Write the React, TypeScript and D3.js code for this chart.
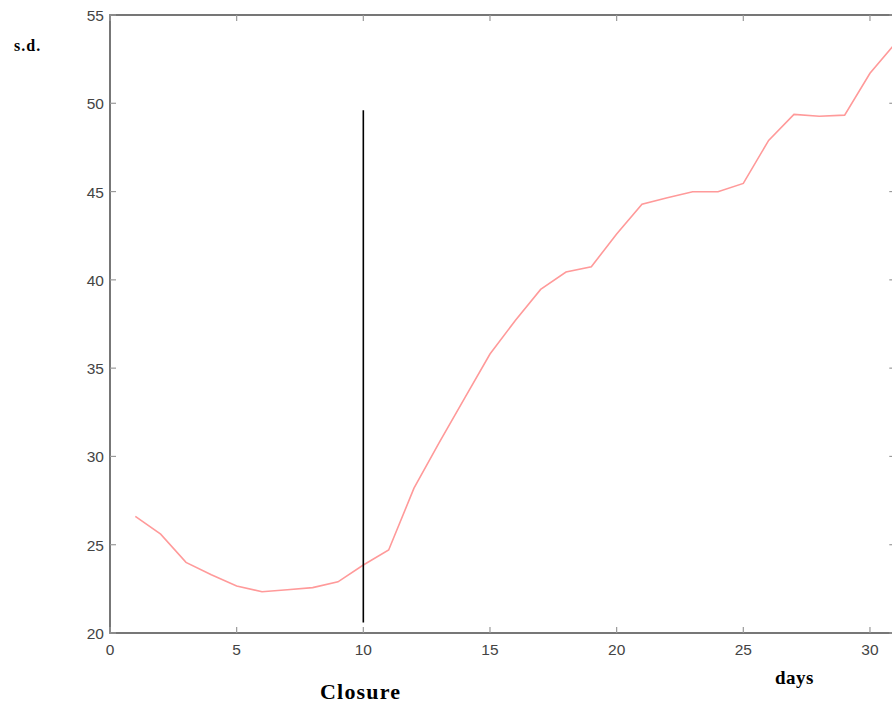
import React from "react";
import * as d3 from "d3";

const days = [1,2,3,4,5,6,7,8,9,10,11,12,13,14,15,16,17,18,19,20,21,22,23,24,25,26,27,28,29,30,31];
const sdValues = [26.6,25.6,24.0,23.3,22.66,22.34,22.45,22.57,22.9,23.85,24.7,28.2,30.8,33.3,35.8,37.7,39.46,40.44,40.74,42.6,44.29,44.65,44.99,44.99,45.46,47.9,49.37,49.27,49.33,51.7,53.4];
const xTicks = [0,5,10,15,20,25,30];
const yTicks = [20,25,30,35,40,45,50,55];
const closureDay = 10;
const closureRange = [20.6, 49.6];

export default function App() {
  const W = 892, H = 710;
  const x = d3.scaleLinear().domain([0, 31]).range([110, 895.3]);
  const y = d3.scaleLinear().domain([20, 55]).range([633, 15]);
  const line = d3.line<number>().x((_, i) => x(days[i])).y((d) => y(d));
  const axisColor = "#555";
  const tickLen = 6;
  const font = "'Liberation Sans', Arial, sans-serif";
  const serif = "'Liberation Serif', 'Times New Roman', serif";
  return (
    <svg width={W} height={H} style={{ position: "absolute", left: 0, top: 0, background: "#fff" }}>
      <defs>
        <clipPath id="plot">
          <rect x={x(0)} y={y(55)} width={x(31) - x(0)} height={y(20) - y(55)} />
        </clipPath>
      </defs>
      {/* frame */}
      <rect x={x(0)} y={y(55)} width={x(31) - x(0)} height={y(20) - y(55)} fill="none" stroke={axisColor} strokeWidth={1.6} />
      {/* x ticks */}
      {xTicks.map((t) => (
        <g key={"x" + t}>
          <line x1={x(t)} x2={x(t)} y1={y(20)} y2={y(20) - tickLen} stroke="#999" strokeWidth={1.2} />
          <line x1={x(t)} x2={x(t)} y1={y(55)} y2={y(55) + tickLen} stroke="#999" strokeWidth={1.2} />
          <text x={x(t)} y={y(20) + 22} textAnchor="middle" fontFamily={font} fontSize={15.5} fill="#444">{t}</text>
        </g>
      ))}
      {/* y ticks */}
      {yTicks.map((t) => (
        <g key={"y" + t}>
          <line x1={x(0)} x2={x(0) + tickLen} y1={y(t)} y2={y(t)} stroke="#999" strokeWidth={1.2} />
          <line x1={x(31)} x2={x(31) - tickLen} y1={y(t)} y2={y(t)} stroke="#999" strokeWidth={1.2} />
          <text x={x(0) - 6} y={y(t) + 6} textAnchor="end" fontFamily={font} fontSize={15.5} fill="#444">{t}</text>
        </g>
      ))}
      {/* data line */}
      <path d={line(sdValues) || ""} fill="none" stroke="#ff9a9a" strokeWidth={1.6} clipPath="url(#plot)" />
      {/* closure line */}
      <line x1={x(closureDay)} x2={x(closureDay)} y1={y(closureRange[1])} y2={y(closureRange[0])} stroke="#000" strokeWidth={1.6} />
      {/* labels */}
      <text x={14} y={51} fontFamily={serif} fontWeight="bold" fontSize={16} letterSpacing={1} fill="#000">s.d.</text>
      <text x={320} y={699} fontFamily={serif} fontWeight="bold" fontSize={22} letterSpacing={1.2} fill="#000">Closure</text>
      <text x={775} y={684} fontFamily={serif} fontWeight="bold" fontSize={19} letterSpacing={0.5} fill="#000">days</text>
    </svg>
  );
}
